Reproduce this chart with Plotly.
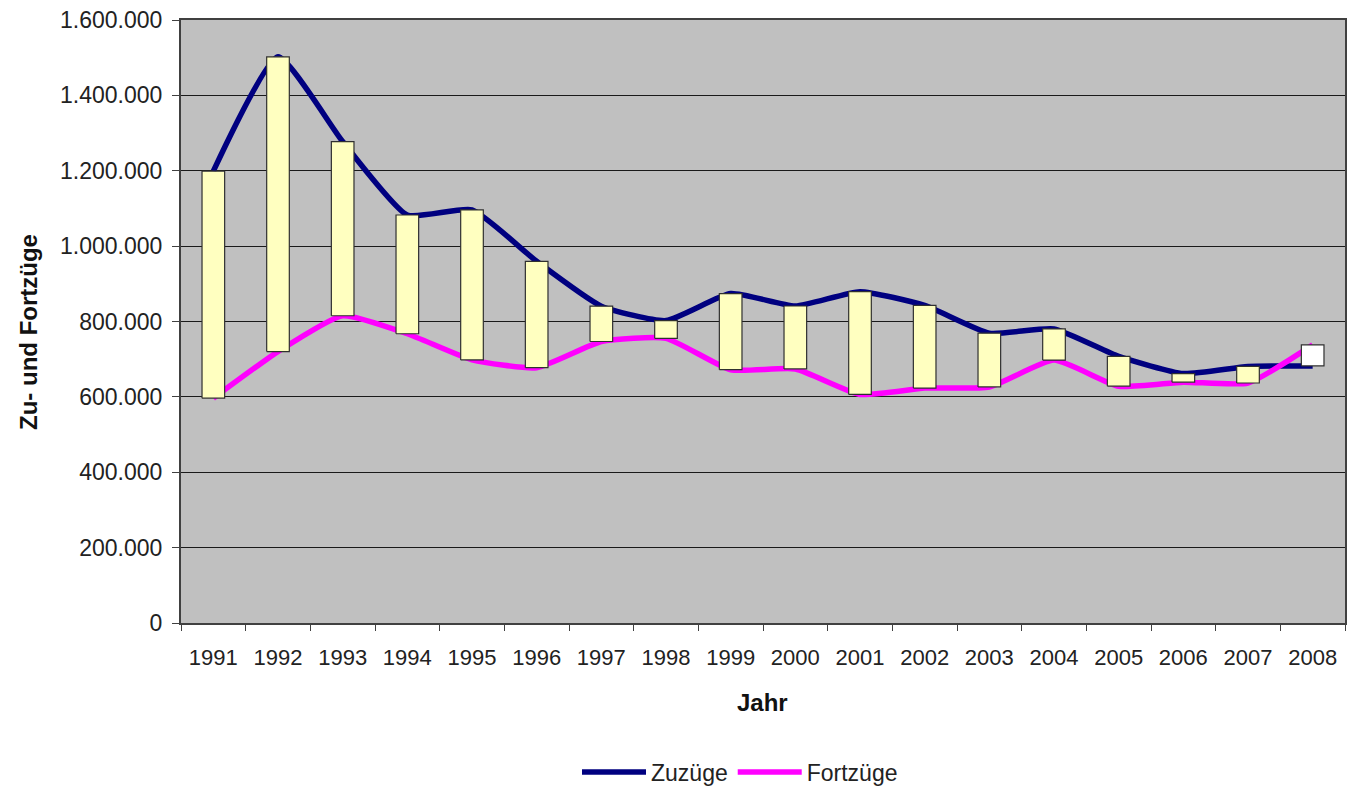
import plotly.graph_objects as go

years = list(range(1991, 2009))
year_labels = [str(y) for y in years]
zuzuege = [1198978, 1502198, 1277408, 1082553, 1096048, 959691, 840633, 802456,
           874023, 841158, 879217, 842543, 768975, 780175, 707352, 661855,
           680766, 682146]
fortzuege = [596455, 720127, 815312, 767555, 698113, 677494, 746969, 755358,
             672048, 674038, 606494, 623255, 626330, 697632, 628399, 639064,
             636854, 737889]
y_ticks = [0, 200000, 400000, 600000, 800000, 1000000, 1200000, 1400000, 1600000]

W, H = 1347, 788
L, R, T, B = 181, 2, 20, 165
pw, ph = W - L - R, H - T - B

def px(xp):
    return (xp - L) / pw

def py(yp):
    return (H - B - yp) / ph

FONT = "Liberation Sans, Arial, sans-serif"
hw = 0.175  # half width of up/down bars (category units)


def rects(cond):
    xs, ys = [], []
    for x, a, b in zip(years, zuzuege, fortzuege):
        if cond(a, b):
            lo, hi = min(a, b), max(a, b)
            xs += [x - hw, x + hw, x + hw, x - hw, x - hw, None]
            ys += [lo, lo, hi, hi, lo, None]
    return xs, ys


fig = go.Figure()
fig.add_trace(go.Scatter(x=years, y=zuzuege, name="Zuzüge", mode="lines",
                         line=dict(color="#000080", width=5.5, shape="spline", smoothing=0.5)))
fig.add_trace(go.Scatter(x=years, y=fortzuege, name="Fortzüge", mode="lines",
                         line=dict(color="#FF00FF", width=5.5, shape="spline", smoothing=0.5)))

dx, dy = rects(lambda a, b: a >= b)
fig.add_trace(go.Scatter(x=dx, y=dy, mode="lines", fill="toself", fillcolor="#FFFFC0",
                         line=dict(color="#303030", width=1.2), showlegend=False, hoverinfo="skip"))
ux, uy = rects(lambda a, b: a < b)
fig.add_trace(go.Scatter(x=ux, y=uy, mode="lines", fill="toself", fillcolor="#FFFFFF",
                         line=dict(color="#303030", width=1.2), showlegend=False, hoverinfo="skip"))

fig.update_layout(
    width=W, height=H,
    margin=dict(l=L, r=R, t=T, b=B, autoexpand=False),
    paper_bgcolor="white", plot_bgcolor="#C0C0C0",
    separators=",.",
    font=dict(family=FONT, size=22, color="#222222"),
    showlegend=True,
    legend=dict(orientation="h", x=px(577), xanchor="left", y=py(772), yanchor="middle",
                font=dict(size=23, color="#222222"), bgcolor="rgba(0,0,0,0)",
                itemwidth=64, tracegroupgap=0),
    annotations=[
        dict(text="Zu- und Fortzüge", xref="paper", yref="paper", x=px(28), y=py(332),
             textangle=-90, showarrow=False, xanchor="center", yanchor="middle",
             font=dict(size=24, family=FONT, color="#111111", weight="bold")),
        dict(text="Jahr", xref="paper", yref="paper", x=px(762), y=py(702),
             showarrow=False, xanchor="center", yanchor="middle",
             font=dict(size=24, family=FONT, color="#111111", weight="bold")),
    ],
)

fig.update_xaxes(
    range=[1990.5, 2008.5], tickmode="array", tickvals=years, ticktext=year_labels,
    ticks="", showgrid=False, zeroline=False,
    showline=True, linecolor="#404040", linewidth=2, mirror=True,
    ticklabelstandoff=14, tickfont=dict(size=22),
    minor=dict(tickmode="array", tickvals=[y - 0.5 for y in years] + [years[-1] + 0.5],
               ticks="outside", ticklen=6, tickcolor="#404040", tickwidth=1, showgrid=False),
)
fig.update_yaxes(
    range=[0, 1600000], tickmode="array", tickvals=y_ticks, tickformat=",d",
    ticks="outside", ticklen=7, tickcolor="#404040", tickwidth=1,
    tickfont=dict(size=23), ticklabelstandoff=5,
    showgrid=True, gridcolor="#1a1a1a", gridwidth=1, zeroline=False,
    showline=True, linecolor="#404040", linewidth=2, mirror=True,
)

fig.write_html("out.html", config={"displayModeBar": False},
               post_script="document.body.style.margin='0';document.body.style.overflow='hidden';")
